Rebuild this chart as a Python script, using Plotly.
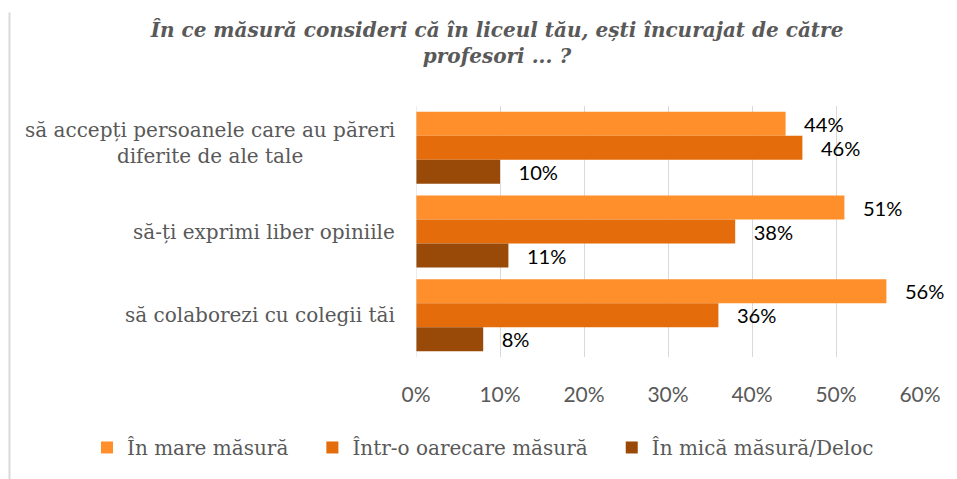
import plotly.graph_objects as go

categories = [
    "să accepți persoanele care au păreri<br>diferite de ale tale",
    "să-ți exprimi liber opiniile",
    "să colaborezi cu colegii tăi",
]
series_names = ["În mare măsură", "Într-o oarecare măsură", "În mică măsură/Deloc"]
mare = [44, 51, 56]
oarecare = [46, 38, 36]
mica = [10, 11, 8]
tick_vals = [0, 10, 20, 30, 40, 50, 60]
tick_text = ["0%", "10%", "20%", "30%", "40%", "50%", "60%"]
colors = ["#FF8F2A", "#E46C0A", "#9A4A08"]
title = "În ce măsură consideri că în liceul tău, ești încurajat de către<br>profesori ... ?"

serif = "DejaVu Serif"
sans = "Lato"

W, H = 949, 471  # page adds an 8px body margin

fig = go.Figure()
for name, vals, col in zip(series_names, [mare, oarecare, mica], colors):
    fig.add_trace(go.Bar(
        y=categories, x=vals, name=name + "\u00a0\u00a0\u00a0", orientation="h",
        marker=dict(color=col, line=dict(width=0)),
        text=[f"{v}%" for v in vals], textposition="outside",
        texttemplate="   %{text}",
        textfont=dict(family=sans, size=21, color="#000000"),
        cliponaxis=False,
    ))

for c in categories:
    fig.add_annotation(
        x=0, xref="paper", xanchor="right", xshift=-19,
        y=c, yref="y", yshift=5 if "<br>" in c else 0,
        text=c, showarrow=False, align="center",
        font=dict(family=serif, size=20, color="#595959"),
    )

# left chart border line
fig.add_shape(type="line", xref="paper", yref="paper",
              x0=(1.5 - 408) / 504, x1=(1.5 - 408) / 504, y0=-0.5, y1=(356 - 2) / 258,
              line=dict(color="#D9D9D9", width=2))

fig.update_layout(
    width=W, height=H,
    margin=dict(l=408, r=37, t=98, b=115),
    paper_bgcolor="white", plot_bgcolor="white",
    barmode="group", bargap=0.14, bargroupgap=0,
    title=dict(text=f"<b><i>{title}</i></b>", xref="container", x=489 / W, xanchor="center",
               yref="container", y=1 - 29 / H, yanchor="top",
               font=dict(family=serif, size=20, color="#595959")),
    xaxis=dict(range=[0, 60], tickvals=tick_vals, ticktext=tick_text,
               showgrid=True, gridcolor="#D9D9D9", gridwidth=1, zeroline=False,
               showline=False, ticklabelstandoff=23,
               tickfont=dict(family=sans, size=21, color="#595959")),
    yaxis=dict(autorange="reversed", showticklabels=False, showgrid=False,
               showline=False, zeroline=False),
    legend=dict(orientation="h", xref="paper", yref="paper",
                x=(87 - 416) / 504, xanchor="left", y=(364 - 457) / 258, yanchor="middle",
                font=dict(family=serif, size=20, color="#595959"),
                itemwidth=30, traceorder="normal"),
    showlegend=True,
)
fig.add_shape(type="line", xref="x", yref="paper", x0=0, x1=0, y0=0, y1=1,
              line=dict(color="#D9D9D9", width=1))

fig.write_html("out.html")
